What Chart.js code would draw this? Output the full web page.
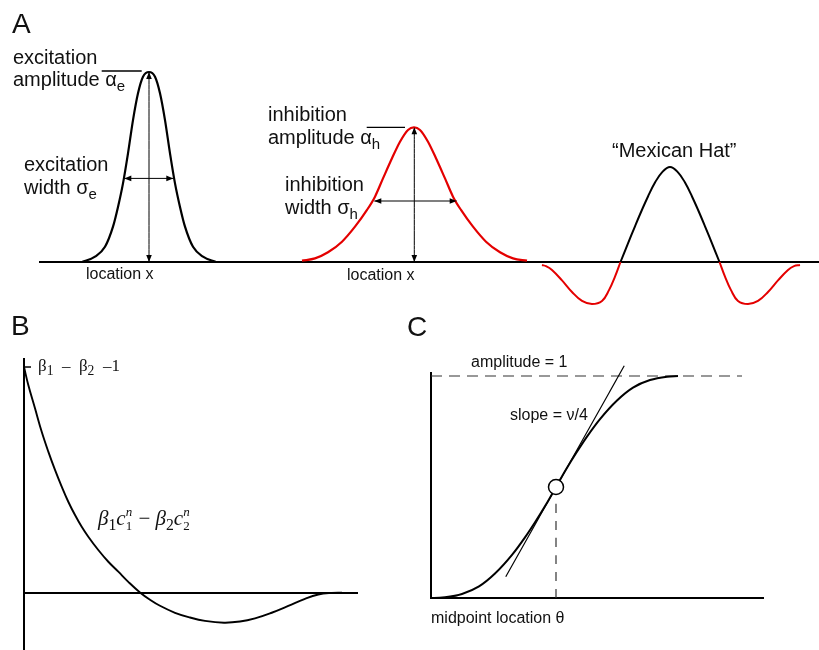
<!DOCTYPE html>
<html>
<head>
<meta charset="utf-8">
<script src="https://cdn.jsdelivr.net/npm/chart.js@4.4.1/dist/chart.umd.min.js"></script>
<style>
  body { margin: 0; background: #fff; }
  #fig { position: relative; width: 819px; height: 650px; overflow: hidden; }
  #fig canvas { position: absolute; }
</style>
</head>
<body>
<div id="fig">
  <canvas id="panelA" width="819" height="320" style="left:0;top:0;width:819px;height:320px"></canvas>
  <canvas id="panelB" width="400" height="350" style="left:0;top:300px;width:400px;height:350px"></canvas>
  <canvas id="panelC" width="419" height="350" style="left:400px;top:300px;width:419px;height:350px"></canvas>
</div>
<script>
// ---- panel A : location (arbitrary units) vs. weight (excitation amplitude = 1)
const excX = [4.2, 5.5, 6.5, 7.3, 7.8, 8.3, 8.8, 9.3, 9.8, 10.3, 10.9, 11.5, 12.0, 12.5, 13.0, 13.5, 14.0, 14.5, 15.3, 16.3, 17.6];
const excY = [0, 0.028, 0.08, 0.186, 0.29, 0.414, 0.572, 0.747, 0.888, 0.975, 1.0, 0.975, 0.888, 0.747, 0.572, 0.414, 0.29, 0.186, 0.08, 0.028, 0];
const inhX = [26.2, 27.5, 28.8, 30.2, 31.5, 32.7, 33.5, 34.3, 35.2, 36.0, 36.8, 37.4, 38.0, 38.8, 39.6, 40.5, 41.3, 42.1, 43.3, 44.6, 46.0, 47.3, 48.7];
const inhY = [0.007, 0.019, 0.051, 0.107, 0.186, 0.274, 0.344, 0.44, 0.546, 0.633, 0.695, 0.709, 0.695, 0.633, 0.546, 0.44, 0.344, 0.274, 0.186, 0.107, 0.051, 0.019, 0.007];
const hatX = [58.05, 58.75, 59.5, 60.2, 60.8, 61.5, 62.2, 63.0, 63.8, 64.5, 65.2, 65.8, 66.5, 67.25, 67.95];
const hatY = [0, 0.092, 0.188, 0.275, 0.345, 0.418, 0.472, 0.5, 0.472, 0.418, 0.345, 0.275, 0.188, 0.092, 0];
const hatLeftX = [50.2, 50.6, 51.2, 52.2, 53.2, 54.2, 55.2, 56.2, 56.9, 57.5, 58.05];
const hatLeftY = [-0.016, -0.022, -0.042, -0.097, -0.158, -0.205, -0.221, -0.205, -0.148, -0.077, 0];
const hatRightX = [67.95, 68.5, 69.1, 69.8, 70.8, 71.8, 72.8, 73.8, 74.8, 75.4, 76.0];
const hatRightY = [0, -0.077, -0.148, -0.205, -0.221, -0.205, -0.158, -0.097, -0.042, -0.022, -0.016];
// markers for amplitude / width
const excHeightX = [10.9, 10.9], excHeightY = [0, 1.0];
const excWidthX = [8.43, 13.33], excWidthY = [0.44, 0.44];
const excAmpX = [6.17, 10.17], excAmpY = [1.005, 1.005];
const inhHeightX = [37.43, 37.43], inhHeightY = [0, 0.709];
const inhWidthX = [33.43, 41.67], inhWidthY = [0.321, 0.321];
const inhAmpX = [32.67, 36.5], inhAmpY = [0.709, 0.709];

// ---- panel B : distance vs. beta1*c1^n - beta2*c2^n (top value = 1)
const bX = [0, 0.129, 0.33, 0.532, 0.73, 0.931, 1.132, 1.33, 1.532, 1.733, 1.931, 2.231, 2.532, 2.832, 3.132, 3.492, 3.784, 4.084, 4.535, 4.985, 5.435, 6.006, 6.486, 6.937, 7.438, 7.937, 8.438, 8.838, 9.24, 9.55];
const bY = [1.0, 0.92, 0.817, 0.713, 0.625, 0.544, 0.47, 0.403, 0.344, 0.292, 0.248, 0.189, 0.137, 0.093, 0.048, 0, -0.031, -0.058, -0.089, -0.11, -0.125, -0.133, -0.128, -0.114, -0.089, -0.059, -0.027, -0.008, -0.001, 0];
const bTickX = [0, 0.21], bTickY = [1, 1];

// ---- panel C : sigmoid, amplitude 1, midpoint theta = 5
const sigX = [0, 0.12, 0.56, 1.24, 1.92, 2.56, 3.24, 3.76, 4.2, 4.6, 5.0, 5.4, 5.8, 6.24, 6.76, 7.44, 8.08, 8.76, 9.44, 9.88];
const sigY = [0, 0, 0.003, 0.018, 0.052, 0.11, 0.194, 0.273, 0.348, 0.421, 0.5, 0.579, 0.652, 0.727, 0.806, 0.89, 0.948, 0.982, 0.997, 1.0];
const tangentX = [2.99, 7.73], tangentY = [0.096, 1.046];
const midX = [5.0], midY = [0.5];
const midDropX = [5.0, 5.0], midDropY = [0, 0.46];
const ampX = [0, 12.44], ampY = [1, 1];

const RED = 'rgb(228,0,0)';
const sans = '"Liberation Sans", Arial, Helvetica, sans-serif';
const serif = '"Liberation Serif", "Times New Roman", serif';

function pts(xs, ys) {
    return xs.map(function (x, i) { return { x: x, y: ys[i] }; });
}

function curve(xs, ys, color, width, extra) {
    return Object.assign({
        data: pts(xs, ys),
        showLine: true,
        borderColor: color,
        borderWidth: width,
        pointRadius: 0,
        cubicInterpolationMode: 'monotone',
        fill: false
    }, extra || {});
}

// smoother spline for the wavy curves
var soft = { cubicInterpolationMode: 'default', tension: 0.4 };

// little filled arrow head with its tip on (x, y)
function head(ctx, x, y, fromX, fromY, color) {
    var ang = Math.atan2(y - fromY, x - fromX);
    ctx.save();
    ctx.translate(x, y);
    ctx.rotate(ang);
    ctx.fillStyle = color;
    ctx.beginPath();
    ctx.moveTo(0, 0);
    ctx.lineTo(-7, -2.8);
    ctx.lineTo(-7, 2.8);
    ctx.closePath();
    ctx.fill();
    ctx.restore();
}

var arrowHeads = {
    id: 'arrowHeads',
    afterDatasetsDraw: function (chart) {
        var ctx = chart.ctx;
        chart.data.datasets.forEach(function (ds, i) {
            if (!ds.arrows) return;
            var el = chart.getDatasetMeta(i).data;
            var a = el[0], b = el[el.length - 1];
            head(ctx, b.x, b.y, a.x, a.y, ds.borderColor);
            head(ctx, a.x, a.y, b.x, b.y, ds.borderColor);
        });
    }
};

// text with sub / superscripts, drawn on the chart canvas
function drawRich(ctx, n) {
    var fam = n.family || sans, st = n.style || 'normal', size = n.size;
    var cx = n.x;
    ctx.save();
    ctx.fillStyle = '#111';
    ctx.textBaseline = 'alphabetic';
    ctx.textAlign = 'left';
    n.parts.forEach(function (p) {
        var t = p[0], kind = p[1], pst = p[2] || st;
        if (kind === 'stack') {
            ctx.font = pst + ' ' + (size * 0.62) + 'px ' + fam;
            ctx.fillText(t[0], cx, n.y - size * 0.42);
            ctx.font = 'normal ' + (size * 0.62) + 'px ' + fam;
            ctx.fillText(t[1], cx, n.y + size * 0.22);
            cx += Math.max(ctx.measureText(t[0]).width, ctx.measureText(t[1]).width) + 1;
            return;
        }
        var fs = size, dy = 0;
        if (kind === 'sub') { fs = size * (n.subScale || 0.75); dy = size * 0.25; }
        ctx.font = pst + ' ' + fs + 'px ' + fam;
        ctx.fillText(t, cx, n.y + dy);
        cx += ctx.measureText(t).width;
    });
    ctx.restore();
}

function notes(items) {
    return {
        id: 'notes',
        afterDraw: function (chart) {
            items.forEach(function (n) { drawRich(chart.ctx, n); });
        }
    };
}

var notesA = [
    { x: 12, y: 33, size: 28, parts: [['A']] },
    { x: 13, y: 64, size: 20, parts: [['excitation']] },
    { x: 13, y: 86, size: 20, parts: [['amplitude \u03b1'], ['e', 'sub']] },
    { x: 24, y: 171, size: 20, parts: [['excitation']] },
    { x: 24, y: 194, size: 20, parts: [['width \u03c3'], ['e', 'sub']] },
    { x: 268, y: 121, size: 20, parts: [['inhibition']] },
    { x: 268, y: 144, size: 20, parts: [['amplitude \u03b1'], ['h', 'sub']] },
    { x: 285, y: 191, size: 20, parts: [['inhibition']] },
    { x: 285, y: 214, size: 20, parts: [['width \u03c3'], ['h', 'sub']] },
    { x: 612, y: 157, size: 20, parts: [['\u201cMexican Hat\u201d']] },
    { x: 86, y: 279, size: 16, parts: [['location x']] },
    { x: 347, y: 280, size: 16, parts: [['location x']] }
];

var notesB = [
    { x: 11, y: 35, size: 28, parts: [['B']] },
    { x: 38, y: 71, size: 17, family: serif, subScale: 0.8, parts: [['\u03b2'], ['1', 'sub'], ['  \u2013  '], ['\u03b2'], ['2', 'sub'], ['  \u20131']] },
    { x: 98, y: 225, size: 21, family: serif, style: 'italic', parts: [
        ['\u03b2'], ['1', 'sub', 'normal'], ['c'], [['n', '1'], 'stack'],
        [' \u2212 ', null, 'normal'],
        ['\u03b2'], ['2', 'sub', 'normal'], ['c'], [['n', '2'], 'stack']] }
];

var notesC = [
    { x: 7, y: 36, size: 28, parts: [['C']] },
    { x: 71, y: 67, size: 16, parts: [['amplitude = 1']] },
    { x: 110, y: 120, size: 16, parts: [['slope = \u03bd/4']] },
    { x: 31, y: 323, size: 16, parts: [['midpoint location \u03b8']] }
];

var hidden = { legend: { display: false }, tooltip: { enabled: false } };
var noTicks = { grid: { display: false, drawTicks: false }, ticks: { display: false } };

function axisLine(extra) {
    return Object.assign({ type: 'linear', border: { display: true, color: '#000', width: 2 } }, noTicks, extra);
}

// panel A
new Chart(document.getElementById('panelA'), {
    type: 'scatter',
    data: {
        datasets: [
            curve(excX, excY, '#000', 2.2),
            curve(inhX, inhY, RED, 2.2),
            curve(hatX, hatY, '#000', 2, soft),
            curve(hatLeftX, hatLeftY, RED, 2, soft),
            curve(hatRightX, hatRightY, RED, 2, soft),
            curve(excHeightX, excHeightY, '#000', 1, { arrows: true }),
            curve(excWidthX, excWidthY, '#000', 1, { arrows: true }),
            curve(excAmpX, excAmpY, '#000', 1.5),
            curve(inhHeightX, inhHeightY, '#000', 1, { arrows: true }),
            curve(inhWidthX, inhWidthY, '#000', 1.2, { arrows: true }),
            curve(inhAmpX, inhAmpY, '#000', 1.3)
        ]
    },
    options: {
        responsive: false,
        animation: false,
        events: [],
        layout: { padding: { left: 40, right: 0, top: 53, bottom: 1 } },
        plugins: hidden,
        scales: {
            x: axisLine({ min: 0, max: 77.9, position: { y: 0 } }),
            y: { type: 'linear', min: -0.3, max: 1.1, display: false }
        }
    },
    plugins: [arrowHeads, notes(notesA)]
});

// panel B
new Chart(document.getElementById('panelB'), {
    type: 'scatter',
    data: {
        datasets: [
            curve(bX, bY, '#000', 1.9, soft),
            curve(bTickX, bTickY, '#000', 1.5)
        ]
    },
    options: {
        responsive: false,
        animation: false,
        events: [],
        layout: { padding: { left: 24, right: 43, top: 59, bottom: 0 } },
        plugins: hidden,
        scales: {
            x: axisLine({ min: 0, max: 10, position: { y: 0 } }),
            y: axisLine({ min: -0.254, max: 1.0355, position: 'left' })
        }
    },
    plugins: [notes(notesB)]
});

// panel C
new Chart(document.getElementById('panelC'), {
    type: 'scatter',
    data: {
        datasets: [
            { data: pts(midX, midY), pointRadius: 7.5, pointBackgroundColor: '#fff', pointBorderColor: '#000', pointBorderWidth: 1.5, order: 0 },
            curve(sigX, sigY, '#000', 2, { order: 1 }),
            curve(tangentX, tangentY, '#000', 1.2, { order: 2, clip: false }),
            curve(midDropX, midDropY, '#333', 1.2, { order: 3, borderDash: [9, 8] }),
            curve(ampX, ampY, '#333', 1.2, { order: 4, borderDash: [11, 7], clip: false })
        ]
    },
    options: {
        responsive: false,
        animation: false,
        events: [],
        layout: { padding: { left: 31, right: 56, top: 73, bottom: 52 } },
        plugins: hidden,
        scales: {
            x: axisLine({ min: 0, max: 13.28, position: 'bottom' }),
            y: axisLine({ min: 0, max: 1.0135, position: 'left' })
        }
    },
    plugins: [notes(notesC)]
});
</script>
</body>
</html>
